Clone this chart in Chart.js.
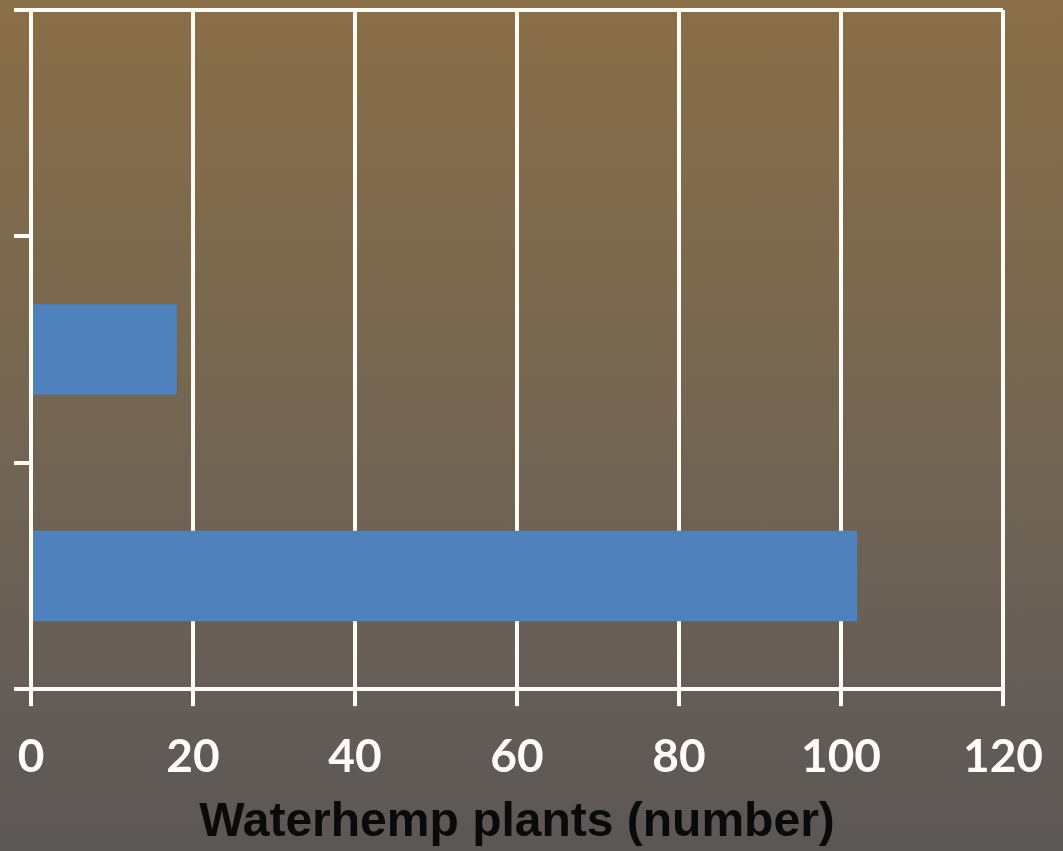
<!DOCTYPE html>
<html>
<head>
<meta charset="utf-8">
<script src="https://cdn.jsdelivr.net/npm/chart.js@4"></script>
<style>
  html, body { margin: 0; padding: 0; }
  body {
    width: 1063px; height: 851px; overflow: hidden;
    background: linear-gradient(to bottom, #8a6e47 0%, #786850 40%, #685f57 75%, #5b5755 100%);
  }
  #wrap { position: relative; width: 1063px; height: 851px; }
</style>
</head>
<body>
<div id="wrap"><canvas id="chart-waterhemp"></canvas></div>
<script>
//data
const categories = ['A', 'B', 'C'];
const plants = [null, 18, 102];
const xTicks = [0, 20, 40, 60, 80, 100, 120];

const BAR_BLUE = 'rgb(79, 129, 189)';
const WHITE = 'rgb(255, 252, 246)';

const data_bars = {
    labels: categories,
    datasets: [{
        label: 'Waterhemp plants',
        data: plants,
        backgroundColor: BAR_BLUE,
        borderWidth: 0,
        categoryPercentage: 1,
        barPercentage: 0.4
    }]
};

//config
const config_bars = {
    type: 'bar',
    data: data_bars,
    options: {
        indexAxis: 'y',
        responsive: true,
        maintainAspectRatio: false,
        animation: false,
        layout: {
            padding: {left: 14, top: 10, right: 60, bottom: 0}
        },
        scales: {
            x: {
                min: xTicks[0],
                max: xTicks[xTicks.length - 1],
                afterBuildTicks: (scale) => { scale.ticks = xTicks.map(v => ({value: v})); },
                grid: {
                    color: WHITE,
                    lineWidth: 4,
                    tickLength: 17
                },
                border: {display: true, color: WHITE, width: 4},
                ticks: {
                    color: WHITE,
                    padding: 0,
                    maxRotation: 0,
                    // tall line box pushes the labels down below the tick marks
                    font: {family: 'Lato', weight: 'bold', size: 46, lineHeight: 2.2}
                },
                title: {
                    display: true,
                    text: 'Waterhemp plants (number)',
                    color: '#0a0a0a',
                    padding: {top: 0, bottom: 12},
                    font: {family: 'Liberation Sans', weight: 'bold', size: 48, lineHeight: 0.66}
                }
            },
            y: {
                grid: {
                    offset: true,
                    color: (ctx) => ctx.index === 0 ? WHITE : 'rgba(0,0,0,0)',
                    tickColor: WHITE,
                    lineWidth: 4,
                    tickLength: 17
                },
                border: {display: true, color: WHITE, width: 4},
                ticks: {display: false}
            }
        },
        plugins: {
            legend: {display: false},
            tooltip: {enabled: false}
        }
    }
};

//render
const bars = new Chart(
    document.getElementById('chart-waterhemp'),
    config_bars
);
</script>
</body>
</html>
